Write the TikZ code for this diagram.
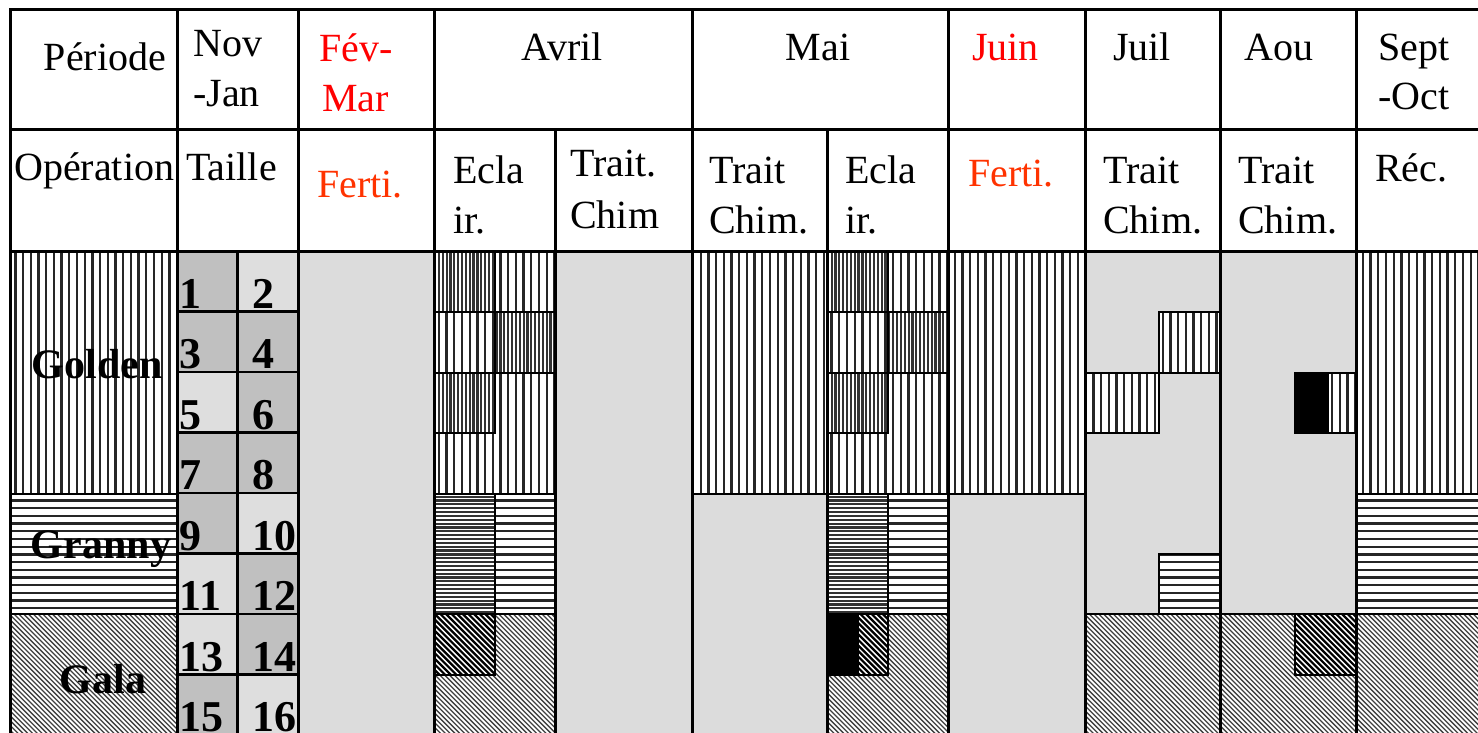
\documentclass[tikz,border=0pt]{standalone}
\usepackage{fontspec}
\setmainfont{Liberation Serif}
\definecolor{bg}{HTML}{DCDCDC}
\definecolor{cdark}{HTML}{C0C0C0}
\definecolor{clight}{HTML}{DEDEDE}
\definecolor{fred}{HTML}{FF3300}
\definecolor{pred}{HTML}{FF0000}
\newcommand\ft{\fontsize{40}{50}\selectfont}
\newcommand\fb{\fontsize{42}{50}\selectfont\bfseries}
\newcommand\fn{\fontsize{44}{50}\selectfont\bfseries}
\tikzset{
  pl/.style={line width=2.3pt,draw=black!85},
  pld/.style={line width=2.2pt,draw=black!80},
  pd/.style={line width=1.3pt,draw=black!75},
  pdd/.style={line width=2.2pt,draw=black},
  blk/.style={draw=black,line width=2.6pt},
  grid/.style={draw=black,line width=3pt},
  txt/.style={inner sep=0pt,anchor=base west,font=\ft},
  ctxt/.style={inner sep=0pt,anchor=base,font=\ft},
  lbl/.style={inner sep=0pt,anchor=base,font=\fb},
  num/.style={inner sep=0pt,anchor=base west,font=\fn},
}
% vertical hatching: x1 y1 x2 y2 dist style
\newcommand\hv[6]{\begin{scope}
  \clip (#1,#2) rectangle (#3,#4);
  \pgfmathtruncatemacro\ka{floor(#1/#5)}
  \pgfmathtruncatemacro\kb{ceil(#3/#5)}
  \foreach \k in {\ka,...,\kb}{\draw[#6] ({\k*#5},#2) -- ({\k*#5},#4);}
\end{scope}}
% horizontal hatching
\newcommand\hh[6]{\begin{scope}
  \clip (#1,#2) rectangle (#3,#4);
  \pgfmathtruncatemacro\ka{floor(#2/#5)}
  \pgfmathtruncatemacro\kb{ceil(#4/#5)}
  \foreach \k in {\ka,...,\kb}{\draw[#6] (#1,{\k*#5}) -- (#3,{\k*#5});}
\end{scope}}
% diagonal hatching (top-left to bottom-right)
\newcommand\hdg[6]{\begin{scope}
  \clip (#1,#2) rectangle (#3,#4);
  \pgfmathtruncatemacro\ka{floor((#1-#4)/#5)}
  \pgfmathtruncatemacro\kb{ceil((#3-#2)/#5)}
  \foreach \k in {\ka,...,\kb}{\draw[#6] ({\k*#5+#2},#2) -- ({\k*#5+#4},#4);}
\end{scope}}
\newcommand\pbox[7]{\fill[white] (#4,#5) rectangle (#6,#7);
  #1{#4}{#5}{#6}{#7}{#2}{#3}
  \draw[blk] (#4,#5) rectangle (#6,#7);}
\newcommand\patV[4]{\pbox{\hv}{7.7}{pl}{#1}{#2}{#3}{#4}}
\newcommand\patVD[4]{\pbox{\hv}{3.85}{pld}{#1}{#2}{#3}{#4}}
\newcommand\patH[4]{\pbox{\hh}{7.7}{pl}{#1}{#2}{#3}{#4}}
\newcommand\patHD[4]{\pbox{\hh}{3.85}{pld}{#1}{#2}{#3}{#4}}
\newcommand\patD[4]{\pbox{\hdg}{4.8}{pd}{#1}{#2}{#3}{#4}}
\newcommand\patDD[4]{\pbox{\hdg}{5.6}{pdd}{#1}{#2}{#3}{#4}}
\begin{document}
\begin{tikzpicture}[x=1pt,y=-1pt]
\useasboundingbox (0,0) rectangle (1478,733);
\clip (0,0) rectangle (1478,733);
\fill[white] (0,0) rectangle (1478,733);
% grey background of the data area
\fill[bg] (298,251) rectangle (1490,745);
% variety labels
\patV{10}{251}{177}{494}
\patH{10}{494}{177}{614}
\patD{10}{614}{177}{745}
% Avril, Eclair.
\patV{434}{251}{555}{494}
\patVD{434}{251}{495}{312}
\patVD{495}{312}{555}{373}
\patVD{434}{373}{495}{433}
\patH{434}{494}{555}{614}
\patHD{434}{494}{495}{614}
\patD{434}{614}{555}{745}
\patDD{434}{614}{495}{675}
% Mai, Trait Chim.
\patV{692}{251}{827}{494}
% Mai, Eclair.
\patV{827}{251}{948}{494}
\patVD{827}{251}{888}{312}
\patVD{888}{312}{948}{373}
\patVD{827}{373}{888}{433}
\patH{827}{494}{948}{614}
\patHD{827}{494}{888}{614}
\patD{827}{614}{948}{745}
\patDD{858}{614}{888}{675}
\fill[black] (827,614) rectangle (858,675);
\draw[blk] (827,614) rectangle (888,675);
% Juin
\patV{948}{251}{1085}{494}
% Juil
\patV{1159}{312}{1220}{373}
\patV{1085}{373}{1159}{433}
\patH{1159}{554}{1220}{614}
\patD{1085}{614}{1220}{745}
% Aou
\patD{1220}{614}{1356}{745}
\patDD{1295}{614}{1356}{675}
\patV{1328}{373}{1356}{433}
\fill[black] (1295,373) rectangle (1328,433);
\draw[blk] (1295,373) rectangle (1356,433);
% Sept-Oct
\patV{1356}{251}{1490}{494}
\patH{1356}{494}{1490}{614}
\patD{1356}{614}{1490}{745}
% number cells
\foreach \n/\c [count=\i from 0] in {1/cdark,2/clight,3/cdark,4/cdark,5/clight,6/cdark,7/cdark,8/cdark,9/cdark,10/clight,11/clight,12/cdark,13/clight,14/cdark,15/cdark,16/clight}{
  \pgfmathsetmacro\col{mod(\i,2)}
  \pgfmathsetmacro\row{int(\i/2)}
  \pgfmathsetmacro\xa{177+60.5*\col}
  \pgfmathsetmacro\ya{251+60.5*\row}
  \pgfmathsetmacro\xb{\xa+60.5}
  \pgfmathsetmacro\yb{\ya+60.5}
  \pgfmathsetmacro\xt{\xa+2.5+12*\col}
  \pgfmathsetmacro\yt{\yb-3.5}
  \fill[\c] (\xa,\ya) rectangle (\xb,\yb);
  \node[num] (n\n) at (\xt,\yt) {\n};
  \draw[blk] (\xa,\ya) rectangle (\xb,\yb);
}
% main grid
\draw[grid] (10,10) -- (1490,10);
\draw[grid] (10,130) -- (1490,130);
\draw[grid] (10,251) -- (1490,251);
\draw[grid] (10,8.5) -- (10,745);
\foreach \x in {177,298,434,555,692,827,948,1085,1220,1356}{
  \draw[grid] (\x,8.5) -- (\x,745);
}
\fill[white] (436,11.5) rectangle (690,128.5);
\fill[white] (694,11.5) rectangle (946,128.5);
% header texts
\node[ctxt] (periode) at (105,71) {Période};
\node[txt] (nov) at (193,57) {Nov};
\node[txt] (jan) at (193,107) {-Jan};
\node[txt,text=pred] (fev) at (319,62) {Fév-};
\node[txt,text=pred] (mar) at (322,112) {Mar};
\node[ctxt] (avril) at (562,61) {Avril};
\node[ctxt] (mai) at (818,61) {Mai};
\node[txt,text=pred] (juin) at (972,61) {Juin};
\node[txt] (juil) at (1113,61) {Juil};
\node[txt] (aou) at (1244,61) {Aou};
\node[txt] (sept) at (1378,61) {Sept};
\node[txt] (oct) at (1378,110) {-Oct};
\node[txt] (operation) at (14,180) {Opération};
\node[txt] (taille) at (186,180) {Taille};
\node[txt,text=fred] (ferti1) at (317,197) {Ferti.};
\node[txt] (ecla1) at (453,183) {Ecla};
\node[txt] (ir1) at (453,233) {ir.};
\node[txt] (trait1) at (570,176) {Trait.};
\node[txt] (chim1) at (570,228) {Chim};
\node[txt] (trait2) at (709,183) {Trait};
\node[txt] (chim2) at (709,233) {Chim.};
\node[txt] (ecla2) at (845,183) {Ecla};
\node[txt] (ir2) at (845,233) {ir.};
\node[txt,text=fred] (ferti2) at (968,186) {Ferti.};
\node[txt] (trait3) at (1103,183) {Trait};
\node[txt] (chim3) at (1103,233) {Chim.};
\node[txt] (trait4) at (1238,183) {Trait};
\node[txt] (chim4) at (1238,233) {Chim.};
\node[txt] (rec) at (1375,182) {Réc.};
% variety labels
\node[lbl] (golden) at (97,378) {Golden};
\node[lbl] (granny) at (101,558) {Granny};
\node[lbl] (gala) at (103,693) {Gala};
\end{tikzpicture}
\end{document}
